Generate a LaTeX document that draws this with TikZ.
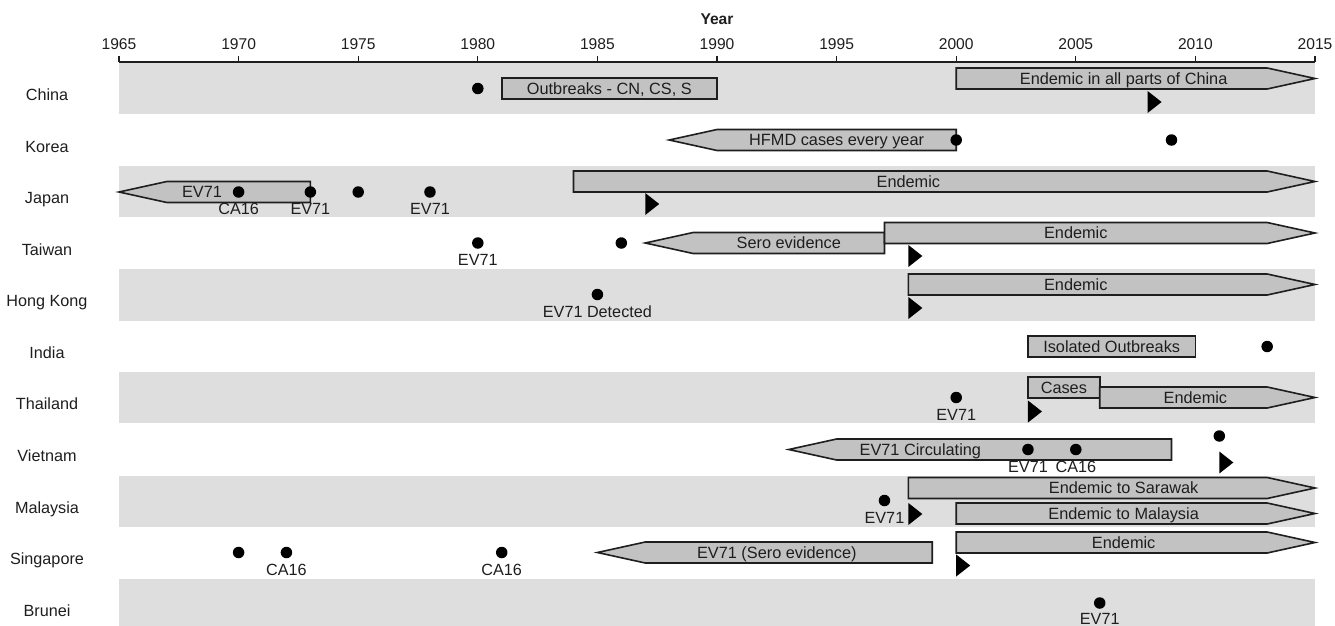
\documentclass[tikz,border=0pt]{standalone}
\usepackage{fontspec}
\setmainfont{Liberation Sans}
\definecolor{bandgray}{HTML}{DEDEDE}
\definecolor{barfill}{HTML}{C2C2C2}
\definecolor{ink}{HTML}{1E1E1E}
\tikzset{
  band/.style={fill=bandgray, draw=none},
  barstyle/.style={fill=barfill, draw=ink, line width=1.6pt, line join=miter},
  bartext/.style={text=ink, font=\fontsize{16.3}{18}\selectfont, inner sep=0pt, text height=11.7pt, text depth=0pt, anchor=center},
  country/.style={text=ink, font=\fontsize{16.2}{18}\selectfont, inner sep=0pt, text height=11.6pt, text depth=0pt},
  ticklbl/.style={text=ink, font=\fontsize{15.6}{18}\selectfont, inner sep=0pt, text height=11.2pt, text depth=0pt},
  dotlbl/.style={text=ink, font=\fontsize{16.2}{18}\selectfont, inner sep=0pt, text height=11.6pt, text depth=0pt},
  dot/.style={circle, fill=black, draw=none, minimum size=11.5pt, inner sep=0pt},
  tri/.style={fill=black, draw=none},
  axis/.style={draw=ink, line width=1.3pt}
}
% right-pointing bar: name, start, yc, textx, text
\newcommand\rbar[5]{%
  \draw[barstyle] ({#2},{#3-10.5}) -- (48,{#3-10.5}) -- (50,#3) -- (48,{#3+10.5}) -- ({#2},{#3+10.5}) -- cycle;
  \node[bartext] (#1) at ({#4},#3) {#5};}
% left-pointing bar: name, tip, end, yc, textx, text
\newcommand\lbar[6]{%
  \draw[barstyle] ({#2},#4) -- ({#2+2},{#4-10.5}) -- ({#3},{#4-10.5}) -- ({#3},{#4+10.5}) -- ({#2+2},{#4+10.5}) -- cycle;
  \node[bartext] (#1) at ({#5},#4) {#6};}
% rectangle bar: name, start, end, yc, textx, text
\newcommand\rectbar[6]{%
  \draw[barstyle] ({#2},{#4-10.5}) rectangle ({#3},{#4+10.5});
  \node[bartext] (#1) at ({#5},#4) {#6};}
% triangle marker: x, yc
\newcommand\trimark[2]{%
  \fill[tri] ({#1},{#2-11}) -- ++(0.585,11) -- ++(-0.585,11) -- cycle;}
% dot: name, x, y
\newcommand\evdot[3]{\node[dot] (#1) at ({#2},#3) {};}
% dot with label below: name, x, y, text
\newcommand\evdotl[4]{\node[dot] (#1) at ({#2},#3) {};
  \node[dotlbl] (#1l) at ({#2},{#3+17}) {#4};}
\begin{document}
\begin{tikzpicture}[x=23.92pt, y=-1pt]
\useasboundingbox (-4.975,0) rectangle (50.836,626);
% bands
\fill[band] (0,62) rectangle (50,114);
\fill[band] (0,166) rectangle (50,217);
\fill[band] (0,269) rectangle (50,320.5);
\fill[band] (0,372) rectangle (50,423);
\fill[band] (0,475.5) rectangle (50,527);
\fill[band] (0,579) rectangle (50,630);
% axis
\draw[axis] (0,62) -- (50,62);
\foreach \i in {0,5,...,50}{
  \pgfmathtruncatemacro\yy{1965+\i}
  \draw[axis] (\i,62) -- (\i,56.5);
  \node[ticklbl] (t\yy) at (\i,44.2) {\yy};
}
\node[ticklbl, font=\bfseries\fontsize{15.6}{18}\selectfont] (ytitle) at (25,19.2) {Year};
% country labels
\node[country] (cChina) at (-3.01,94.2) {China};
\node[country] (cKorea) at (-3.01,146.5) {Korea};
\node[country] (cJapan) at (-3.01,198) {Japan};
\node[country] (cTaiwan) at (-3.01,249.5) {Taiwan};
\node[country] (cHK) at (-3.01,301) {Hong Kong};
\node[country] (cIndia) at (-3.01,352.5) {India};
\node[country] (cThai) at (-3.01,404) {Thailand};
\node[country] (cViet) at (-3.01,456) {Vietnam};
\node[country] (cMalay) at (-3.01,507.5) {Malaysia};
\node[country] (cSing) at (-3.01,559) {Singapore};
\node[country] (cBrunei) at (-3.01,610.5) {Brunei};
% China
\rectbar{chOut}{16}{25}{88.5}{20.5}{Outbreaks - CN, CS, S}
\rbar{chEnd}{35}{78.5}{42}{Endemic in all parts of China}
\trimark{43}{102}
\evdot{chD1}{15}{88.5}
% Korea
\lbar{krH}{23}{35}{140}{30}{HFMD cases every year}
\evdot{krD1}{35}{140}
\evdot{krD2}{44}{140}
% Japan
\lbar{jpEV}{0}{8}{192}{3.47}{EV71}
\rbar{jpEnd}{19}{181.5}{33}{Endemic}
\trimark{22}{204}
\evdotl{jpD1}{5}{192}{CA16}
\evdotl{jpD2}{8}{192}{EV71}
\evdot{jpD3}{10}{192}
\evdotl{jpD4}{13}{192}{EV71}
% Taiwan
\lbar{twSero}{22}{32}{243}{28}{Sero evidence}
\rbar{twEnd}{32}{233}{40}{Endemic}
\trimark{33}{256}
\evdotl{twD1}{15}{243}{EV71}
\evdot{twD2}{21}{243}
% Hong Kong
\rbar{hkEnd}{33}{284.5}{40}{Endemic}
\trimark{33}{308}
\evdotl{hkD1}{20}{294.5}{EV71 Detected}
% India
\rectbar{inIso}{38}{45}{346.5}{41.5}{Isolated Outbreaks}
\evdot{inD1}{48}{346.5}
% Thailand
\rectbar{thCases}{38}{41}{387.5}{39.5}{Cases}
\rbar{thEnd}{41}{397.5}{45}{Endemic}
\trimark{38}{411.5}
\evdotl{thD1}{35}{397.5}{EV71}
% Vietnam
\lbar{vnCirc}{28}{44}{449.5}{33.5}{EV71 Circulating}
\evdotl{vnD1}{38}{449.5}{EV71}
\evdotl{vnD2}{40}{449.5}{CA16}
\evdot{vnD3}{46}{436}
\trimark{46}{462.5}
% Malaysia
\rbar{myS}{33}{488}{42}{Endemic to Sarawak}
\rbar{myM}{35}{513.5}{42}{Endemic to Malaysia}
\trimark{33}{514}
\evdotl{myD1}{32}{500.5}{EV71}
% Singapore
\lbar{sgSero}{20}{34}{552.5}{27.5}{EV71 (Sero evidence)}
\rbar{sgEnd}{35}{542.5}{42}{Endemic}
\trimark{35}{565.5}
\evdot{sgD1}{5}{552.5}
\evdotl{sgD2}{7}{552.5}{CA16}
\evdotl{sgD3}{16}{552.5}{CA16}
% Brunei
\node[dot] (bnD1) at (41,603) {};
\node[dotlbl] (bnD1l) at (41,618.5) {EV71};
\end{tikzpicture}
\end{document}
